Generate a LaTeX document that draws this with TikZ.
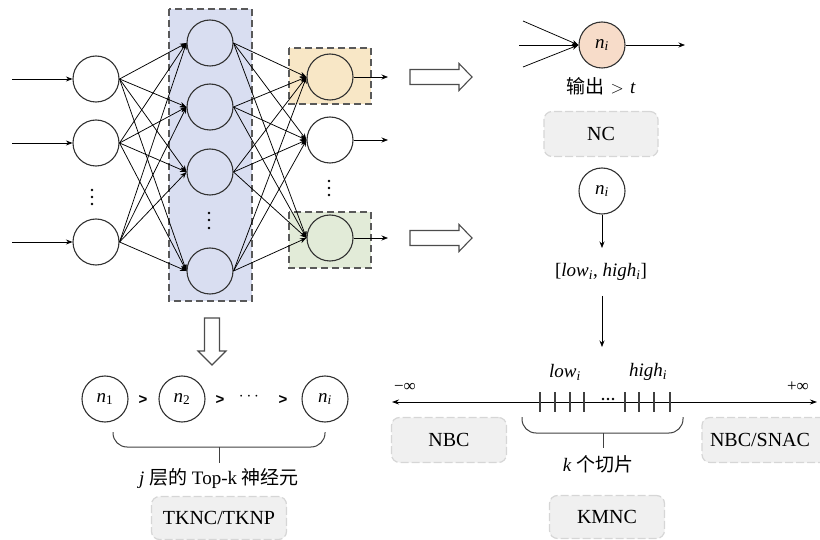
\documentclass[tikz,border=0pt]{standalone}
\usepackage{fontspec}
\setmainfont{Liberation Serif}
\newfontfamily\cjk{Noto Sans CJK SC}
\newfontfamily\sansb{Liberation Sans}
\usetikzlibrary{arrows.meta,calc}
\definecolor{layerblue}{HTML}{D9DEF1}
\definecolor{outorange}{HTML}{F8E7C6}
\definecolor{outgreen}{HTML}{E2EBD8}
\definecolor{firepeach}{HTML}{F7DCC9}
\newcommand\var[2]{\textit{#1}\textsubscript{\textit{#2}}}
\begin{document}
\begin{tikzpicture}[x=1pt,y=-1pt,
  neuron/.style={circle,draw=black!80,line width=1.1pt,minimum size=46pt,inner sep=0pt,fill=white,
    font=\fontsize{19}{22}\selectfont},
  link/.style={line width=0.75pt,-{Stealth[length=6.5pt,width=5pt]}},
  groupbox/.style={draw=black!65,dash pattern=on 7pt off 4pt,line width=1.2pt},
  tag/.style={rounded corners=8pt,fill=black!6,draw=black!16,dash pattern=on 8pt off 3pt,line width=1.2pt,
    font=\fontsize{20}{24}\selectfont,minimum height=45pt,inner sep=0pt},
  hollow/.style={draw=black!70,line width=1.1pt,fill=white,line join=miter},
  brace/.style={draw=black!75,line width=1pt,rounded corners=14pt},
  txt/.style={font=\fontsize{19}{22}\selectfont,inner sep=1pt},
  gt/.style={font=\sansb\bfseries\fontsize{15}{16}\selectfont,inner sep=0pt},
  dot/.style={circle,fill=black,inner sep=0pt,minimum size=2.6pt}]
\useasboundingbox (0,0) rectangle (820,540);

% ---------- network: layer boxes ----------
\fill[layerblue] (169,9) rectangle (252,301);
\draw[groupbox] (169,9) rectangle (252,301);
\fill[outorange] (289,48) rectangle (371,104);
\draw[groupbox] (289,48) rectangle (371,104);
\fill[outgreen] (289,212) rectangle (371,268);
\draw[groupbox] (289,212) rectangle (371,268);

% ---------- network: neurons ----------
\node[neuron] (i1) at (96,79) {};
\node[neuron] (i2) at (96,143) {};
\node[neuron] (i3) at (96,242) {};
\node[neuron,fill=layerblue] (h1) at (210,43) {};
\node[neuron,fill=layerblue] (h2) at (210,107) {};
\node[neuron,fill=layerblue] (h3) at (210,172) {};
\node[neuron,fill=layerblue] (h4) at (210,271) {};
\node[neuron,fill=outorange] (o1) at (330,77) {};
\node[neuron] (o2) at (330,140) {};
\node[neuron,fill=outgreen] (o3) at (330,238) {};

% vertical ellipses
\foreach \y in {190,197,204} \node[dot] at (92,\y) {};
\foreach \y in {213,220,228} \node[dot] at (209,\y) {};
\foreach \y in {181,188,195} \node[dot] at (329,\y) {};

% inputs and outputs
\foreach \k/\y in {1/79,2/143,3/242} {
  \coordinate (in\k) at (12,\y);
  \draw[link] (in\k) -- (i\k.west);
}
\foreach \k/\y in {1/77,2/140,3/238} {
  \coordinate (out\k) at (388,\y);
  \draw[link] (o\k.east) -- (out\k);
}

% full connections
\foreach \a in {1,2,3}
  \foreach \b in {1,2,3,4}
    \draw[link] (i\a.east) -- (h\b.west);
\foreach \a in {1,2,3,4}
  \foreach \b in {1,2,3}
    \draw[link] (h\a.east) -- (o\b.west);

% ---------- hollow arrows ----------
\draw[hollow] (410,69.5) -- (459,69.5) -- (459,63.5) -- (472,77) -- (459,90.5) -- (459,84.5) -- (410,84.5) -- cycle;
\draw[hollow] (410,230.5) -- (459,230.5) -- (459,224.5) -- (472,238) -- (459,251.5) -- (459,245.5) -- (410,245.5) -- cycle;
\draw[hollow] (204.5,318) -- (219.5,318) -- (219.5,351) -- (226,351) -- (212,365) -- (198,351) -- (204.5,351) -- cycle;

% ---------- NC ----------
\node[neuron,fill=firepeach] (ni) at (602,45) {\var{n}{i}};
\coordinate (a1) at (523,21);
\coordinate (a2) at (519,45);
\coordinate (a3) at (523,67);
\coordinate (aout) at (685,45);
\foreach \c in {a1,a2,a3} \draw[link] (\c) -- (ni.west);
\draw[link] (ni.east) -- (aout);
\node[txt] (cond) at (601,86) {{\cjk 输出}\,\,$>$\,\,\textit{t}};
\node[tag,minimum width=114pt] (nc) at (601,134) {NC};

% ---------- KMNC / NBC / SNAC ----------
\node[neuron] (nr) at (602,191) {\var{n}{i}};
\coordinate (rtip) at (602,248);
\draw[link] (nr.south) -- (rtip);
\node[txt] (range) at (601,272) {[\var{low}{i}, \var{high}{i}]};
\coordinate (rtop) at (602,296);
\coordinate (rend) at (602,347);
\draw[link] (rtop) -- (rend);

\coordinate (neginf) at (392,402);
\coordinate (posinf) at (817,402);
\draw[line width=0.8pt,{Stealth[length=7pt,width=5pt]}-{Stealth[length=7pt,width=5pt]}] (neginf) -- (posinf);
\node[font=\fontsize{17}{18}\selectfont] (nl) at (405,387) {−∞};
\node[font=\fontsize{17}{18}\selectfont] (pl) at (798,387) {+∞};
\foreach \x in {540,555,570,584,625,639,654,670}
  \draw[line width=1.1pt,black!75] (\x,392) -- (\x,412);
\foreach \x in {603,608,613} \node[dot,minimum size=2.8pt] at (\x,399) {};
\node[txt] (lowl) at (565,372) {\var{low}{i}};
\node[txt] (highl) at (648,372) {\var{high}{i}};

\draw[brace] (522,417) -- (522,433) -- (683,433) -- (683,417);
\coordinate (kb) at (603,433);
\coordinate (kt) at (603,448);
\draw[line width=1pt,black!75] (kb) -- (kt);
\node[txt] (kslice) at (598,464) {\textit{k} {\cjk 个切片}};

\node[tag,minimum width=115pt] (nbc) at (449,440) {NBC};
\node[tag,minimum width=140pt,text width=124pt,align=left] (snac) at (772,440) {NBC/SNAC};
\node[tag,minimum width=115pt,minimum height=43pt] (kmnc) at (607,517) {KMNC};

% ---------- TKNC ----------
\node[neuron] (c1) at (105,399) {\textit{n}\textsubscript{1}};
\node[neuron] (c2) at (182,399) {\textit{n}\textsubscript{2}};
\node[neuron] (c3) at (325,399) {\var{n}{i}};
\node[gt] (g1) at (143,400) {>};
\node[gt] (g2) at (220,400) {>};
\node[gt] (g3) at (283,400) {>};
\node[txt] (cd) at (249,397) {$\cdots$};
\draw[brace] (113,432) -- (113,447) -- (325,447) -- (325,432);
\coordinate (tb) at (219,447);
\coordinate (tt) at (219,463);
\draw[line width=1pt,black!75] (tb) -- (tt);
\node[txt] (topk) at (219,479) {\textit{j} {\cjk 层的} Top-k {\cjk 神经元}};
\node[tag,minimum width=135pt,minimum height=43pt] (tknc) at (219,518) {TKNC/TKNP};
\end{tikzpicture}
\end{document}
